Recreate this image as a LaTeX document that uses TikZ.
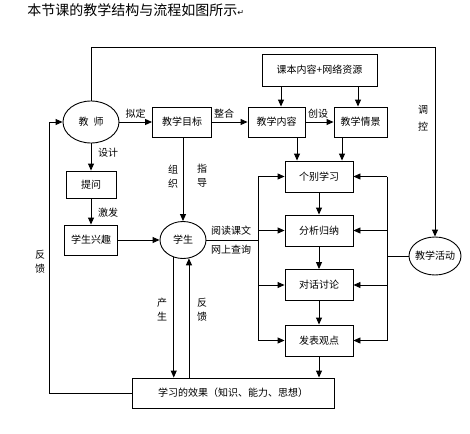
\documentclass[tikz,border=0pt]{standalone}
\usepackage{fontspec}
\setmainfont{Noto Sans CJK SC}
\newfontfamily\symfont{DejaVu Sans}
\usetikzlibrary{shapes.geometric,arrows.meta}

\tikzset{
  box/.style={draw, rectangle, inner sep=0pt, font=\fontsize{10pt}{12pt}\selectfont},
  oval/.style={draw, ellipse, inner xsep=-2pt, inner ysep=0pt, font=\fontsize{10pt}{12pt}\selectfont},
  lbl/.style={inner sep=0pt, align=center, font=\fontsize{10pt}{14pt}\selectfont},
  arr/.style={-{Triangle[length=7pt,width=6pt]}}
}

\begin{document}
\begin{tikzpicture}[x=1pt, y=-1pt, line width=0.9pt]

    \useasboundingbox (0,0) rectangle (470,433);

    % Title line
    \node[lbl, anchor=west, font=\fontsize{14pt}{16pt}\selectfont] (title) at (27,10)
        {本节课的教学结构与流程如图所示{\symfont\fontsize{8pt}{8pt}\selectfont ↵}};

    % Top row: teacher, aims, content, scene
    \node[oval, minimum width=56pt, minimum height=42pt] (jiaoshi) at (91,122) {教\hspace{5pt}师};
    \node[box, minimum width=59pt, minimum height=30pt] (mubiao) at (182,122) {教学目标};
    \node[box, minimum width=57pt, minimum height=30pt] (neirong) at (276.5,122) {教学内容};
    \node[box, minimum width=53pt, minimum height=30pt] (qingjing) at (360.5,122) {教学情景};
    \node[box, minimum width=115pt, minimum height=32pt] (ziyuan) at (319.5,70) {课本内容+网络资源};

    % Left column
    \node[box, minimum width=50pt, minimum height=27pt] (tiwen) at (91,184.5) {提问};
    \node[box, minimum width=53pt, minimum height=30pt] (xingqu) at (91,240) {学生兴趣};
    \node[oval, minimum width=46pt, minimum height=37pt] (xuesheng) at (183,240) {学生};

    % Learning steps
    \node[box, minimum width=68pt, minimum height=31pt] (geren) at (319,176.5) {个别学习};
    \node[box, minimum width=68pt, minimum height=31pt] (fenxi) at (319,230.5) {分析归纳};
    \node[box, minimum width=68pt, minimum height=31pt] (duihua) at (319,285) {对话讨论};
    \node[box, minimum width=68pt, minimum height=31pt] (fabiao) at (319,340.5) {发表观点};
    \node[oval, minimum width=52pt, minimum height=38pt] (huodong) at (435,256) {教学活动};

    % Result box
    \node[box, minimum width=202pt, minimum height=30pt] (xiaoguo) at (233,393) {学习的效果（知识、能力、思想）};

    % Frame lines
    \coordinate (ktop) at (435,47);
    \coordinate (fbl) at (49,393);
    \coordinate (lbus) at (258,240);
    \coordinate (rbus) at (387,256);

    % Top row arrows
    \draw[arr] (jiaoshi) -- (mubiao);
    \draw[arr] (mubiao) -- (neirong);
    \draw[arr] (neirong) -- (qingjing);
    \draw[arr] ([xshift=-38.5pt]ziyuan.south) -- ([xshift=-38.5pt]ziyuan.south |- neirong.north);
    \draw[arr] ([xshift=38.5pt]ziyuan.south) -- ([xshift=38.5pt]ziyuan.south |- qingjing.north);
    \draw[arr] (jiaoshi.north) |- (ktop) -- (huodong.north);

    % Teacher down to student
    \draw[arr] (jiaoshi.south) -- (tiwen.north);
    \draw[arr] (tiwen) -- (xingqu);
    \draw[arr] (xingqu) -- (xuesheng);
    \draw[arr] (xuesheng.north |- mubiao.south) -- (xuesheng.north);

    % Content and scene into the steps
    \draw[arr] ([xshift=20.5pt]neirong.south) -- ([xshift=20.5pt]neirong.south |- geren.north);
    \draw[arr] ([xshift=-18.5pt]qingjing.south) -- ([xshift=-18.5pt]qingjing.south |- geren.north);
    \draw[arr] (geren) -- (fenxi);
    \draw[arr] (fenxi) -- (duihua);
    \draw[arr] (duihua) -- (fabiao);
    \draw[arr] (fabiao.south) -- (fabiao.south |- xiaoguo.north);

    % Buses on both sides of the steps
    \draw (xuesheng.east) -- (lbus);
    \draw (lbus |- geren) -- (lbus |- fabiao);
    \draw (huodong.west) -- (rbus);
    \draw (rbus |- geren) -- (rbus |- fabiao);
    \foreach \b in {geren,fenxi,duihua,fabiao} {
        \draw[arr] (lbus |- \b) -- (\b.west);
        \draw[arr] (rbus |- \b) -- (\b.east);
    }

    % Student and result
    \draw[arr] (xuesheng.242) -- (xuesheng.242 |- xiaoguo.north);
    \draw[arr] (xuesheng.288 |- xiaoguo.north) -- (xuesheng.288);
    \draw[arr] (xiaoguo.west) -- (fbl) |- (jiaoshi.west);

    % Labels
    \node[lbl] (niding) at (135.5,114) {拟定};
    \node[lbl] (zhenghe) at (224,114) {整合};
    \node[lbl] (chuangshe) at (318,114) {创设};
    \node[lbl] (tiaokong) at (423,118.5) {调\\[3pt]控};
    \node[lbl] (sheji) at (108,153) {设计};
    \node[lbl] (jifa) at (108,213) {激发};
    \node[lbl] (zuzhi) at (173,176.5) {组\\织};
    \node[lbl] (zhidao) at (202,175.5) {指\\导};
    \node[lbl] (yuedu) at (231,231) {阅读课文};
    \node[lbl] (chaxun) at (231,250) {网上查询};
    \node[lbl] (fankuil) at (40,261.5) {反\\馈};
    \node[lbl] (chansheng) at (162,310) {产\\生};
    \node[lbl] (fankuim) at (202,310) {反\\馈};

\end{tikzpicture}
\end{document}
